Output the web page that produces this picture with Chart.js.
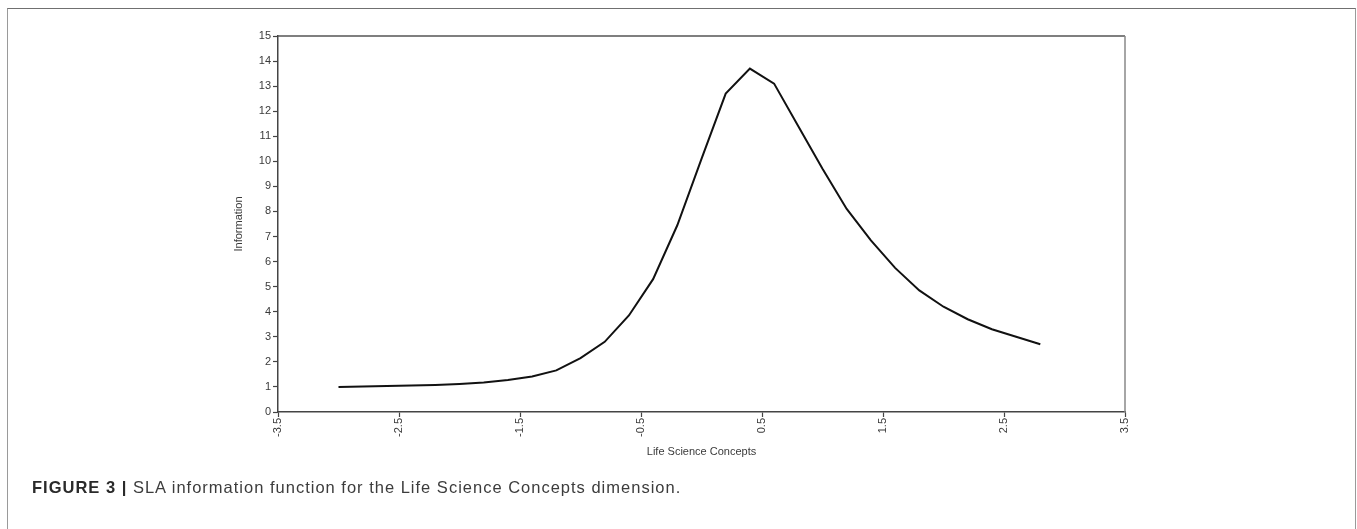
<!DOCTYPE html>
<html>
<head>
<meta charset="utf-8">
<script src="https://cdn.jsdelivr.net/npm/chart.js@4.4.0/dist/chart.umd.min.js"></script>
<style>
  html, body { margin: 0; padding: 0; background: #fff; }
  body { width: 1357px; height: 529px; position: relative; overflow: hidden; font-family: "Liberation Sans", Arial, sans-serif; }
  #frame { position: absolute; left: 7px; top: 8px; width: 1349px; height: 600px; border: 1.5px solid #9a9a9a; border-top-color: #707070; box-sizing: border-box; }
  #chart { position: absolute; left: 0; top: 0; }
  #caption { position: absolute; left: 32px; top: 478px; font-family: "Liberation Sans", Arial, sans-serif; font-size: 16.5px; letter-spacing: 1px; color: #3c3c3c; white-space: nowrap; }
  #caption b { color: #2a2a2a; }
</style>
</head>
<body>
<div id="frame"></div>
<canvas id="chart" width="1357" height="529"></canvas>
<div id="caption"><b>FIGURE 3 |</b> SLA information function for the Life Science Concepts dimension.</div>
<script>
const thetaValues = [-3.0, -2.8, -2.6, -2.4, -2.2, -2.0, -1.8, -1.6, -1.4, -1.2, -1.0, -0.8, -0.6, -0.4, -0.2, 0.0, 0.2, 0.4, 0.6, 0.8, 1.0, 1.2, 1.4, 1.6, 1.8, 2.0, 2.2, 2.4, 2.6, 2.8];
const informationValues = [1.00, 1.02, 1.04, 1.06, 1.08, 1.12, 1.18, 1.28, 1.42, 1.66, 2.15, 2.8, 3.85, 5.3, 7.45, 10.1, 12.7, 13.7, 13.1, 11.4, 9.7, 8.1, 6.85, 5.75, 4.85, 4.2, 3.7, 3.3, 3.0, 2.7];
const xTickValues = [-3.5, -2.5, -1.5, -0.5, 0.5, 1.5, 2.5, 3.5];
const yTickValues = [0, 1, 2, 3, 4, 5, 6, 7, 8, 9, 10, 11, 12, 13, 14, 15];
const xTitle = "Life Science Concepts";
const yTitle = "Information";

const points = thetaValues.map((t, i) => ({ x: t, y: informationValues[i] }));

const frameBox = {
  id: 'frameBox',
  afterDraw(chart) {
    const { ctx, chartArea: a } = chart;
    ctx.save();
    ctx.strokeStyle = '#555';
    ctx.lineWidth = 1.5;
    ctx.beginPath();
    ctx.moveTo(a.left, a.top);
    ctx.lineTo(a.right, a.top);
    ctx.stroke();
    ctx.strokeStyle = '#888';
    ctx.beginPath();
    ctx.moveTo(a.right, a.top);
    ctx.lineTo(a.right, a.bottom);
    ctx.stroke();
    ctx.restore();
  }
};

const tickFont = { family: '"Liberation Sans", Arial, sans-serif', size: 11 };

new Chart(document.getElementById('chart'), {
  type: 'scatter',
  data: {
    datasets: [{
      data: points,
      showLine: true,
      borderColor: '#111',
      borderWidth: 2,
      pointRadius: 0,
      tension: 0,
      fill: false
    }]
  },
  options: {
    responsive: false,
    animation: false,
    layout: { padding: { left: 228, top: 36, right: 232, bottom: 66 } },
    plugins: { legend: { display: false }, tooltip: { enabled: false } },
    scales: {
      x: {
        type: 'linear',
        min: -3.5,
        max: 3.5,
        afterBuildTicks: (s) => { s.ticks = xTickValues.map(v => ({ value: v })); },
        afterFit: (s) => { s.height = 51; },
        ticks: {
          autoSkip: false,
          minRotation: 90,
          maxRotation: 90,
          padding: 1,
          color: '#3a3a3a',
          font: tickFont,
          callback: (v) => String(v)
        },
        grid: { display: true, drawOnChartArea: false, drawTicks: true, tickLength: 5, color: '#444', tickWidth: 1.2 },
        border: { display: true, color: '#444', width: 1.5 },
        title: { display: true, text: xTitle, color: '#3a3a3a', font: tickFont, padding: { top: 4, bottom: 4 } }
      },
      y: {
        type: 'linear',
        min: 0,
        max: 15,
        afterBuildTicks: (s) => { s.ticks = yTickValues.map(v => ({ value: v })); },
        afterFit: (s) => { s.width = 50; },
        ticks: {
          padding: 2,
          color: '#3a3a3a',
          font: tickFont,
          callback: (v) => String(v)
        },
        grid: { display: true, drawOnChartArea: false, drawTicks: true, tickLength: 5, color: '#444', tickWidth: 1.2 },
        border: { display: true, color: '#444', width: 1.5 },
        title: { display: true, text: yTitle, color: '#3a3a3a', font: tickFont, padding: { top: 4, bottom: 4 } }
      }
    }
  },
  plugins: [frameBox]
});
</script>
</body>
</html>
